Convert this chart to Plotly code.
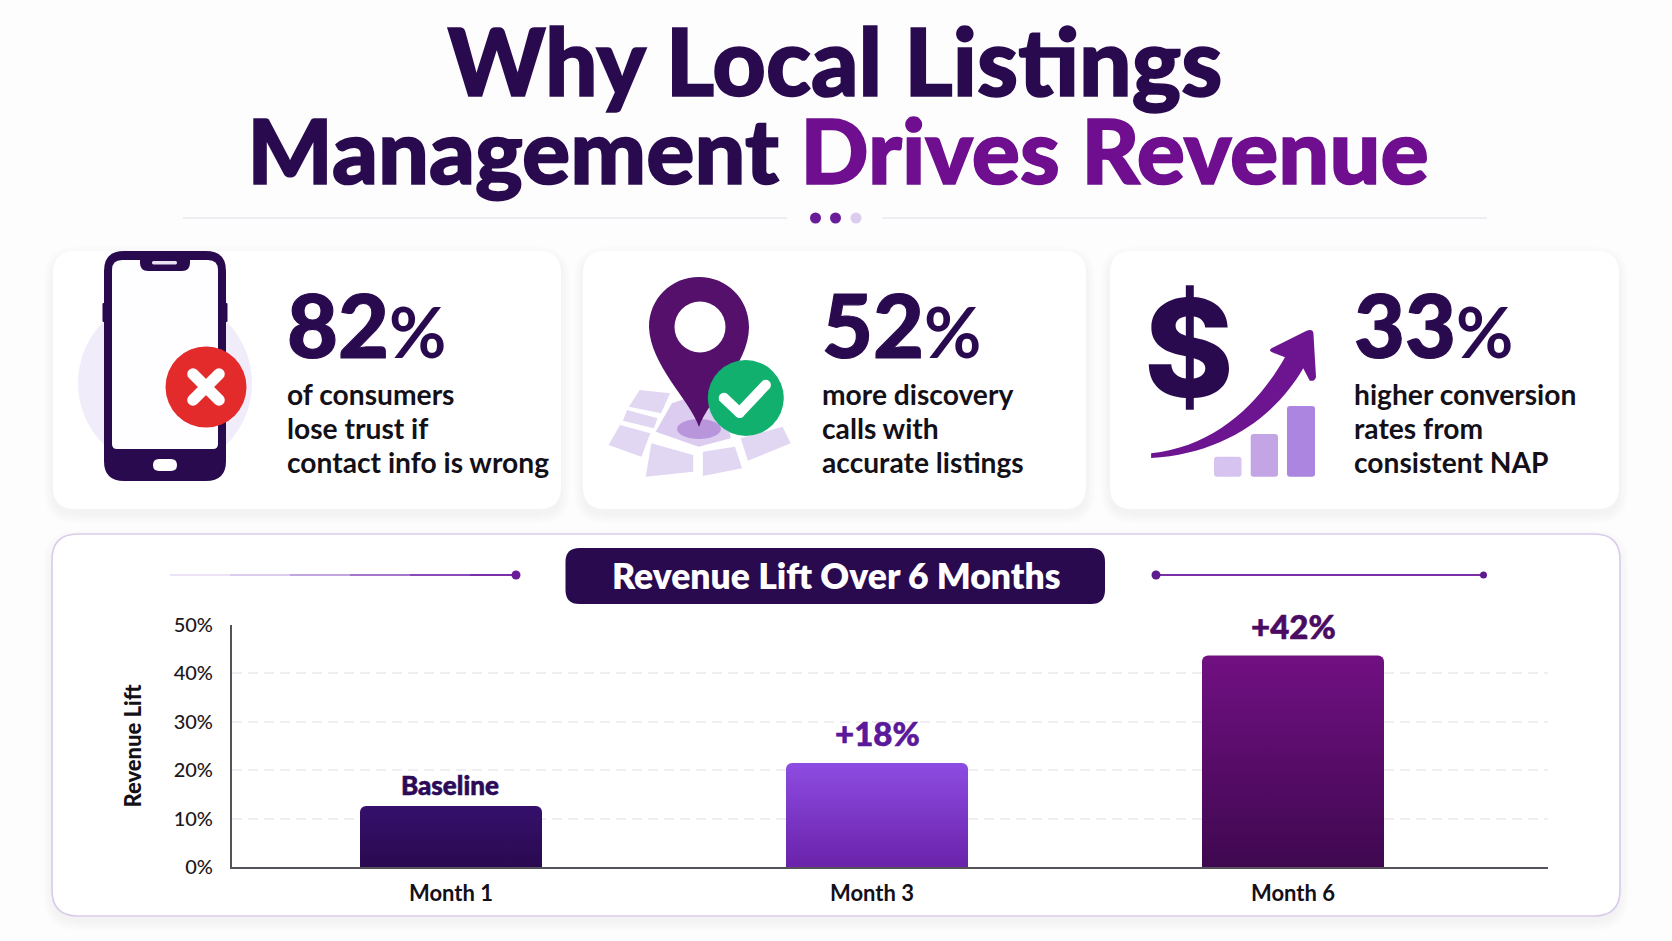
import math
import re
import plotly.graph_objects as go

W, H = 1672, 941

# ---- data ----
months = ["Month 1", "Month 3", "Month 6"]
lift_values = [12.6, 21.5, 43.7]
bar_labels = ["Baseline", "+18%", "+42%"]
stat_numbers = ["82", "52", "33"]
stat_captions = [
    ["of consumers", "lose trust if", "contact info is wrong"],
    ["more discovery", "calls with", "accurate listings"],
    ["higher conversion", "rates from", "consistent NAP"],
]
y_ticks = [0, 10, 20, 30, 40, 50]
y_tick_text = ["0%", "10%", "20%", "30%", "40%", "50%"]

# ---- style ----
FONT = "Lato"
DARK = "#2a0a4f"
PURPLE = "#6f0f8f"
bar_fills = ["#2f0d5f", "#7a35c8", "#5c0d70"]
bar_gradients = [("#35106c", "#2a0a50"), ("#8d4ce2", "#6a22aa"), ("#711082", "#3f0850")]
label_colors = ["#2d0a57", "#5a189a", "#4a0b63"]
label_sizes = [26, 33, 33]
label_shift = [11, 16, 15]
label_xshift = [-1, 5, 0]


def conv(s):
    out, isx = [], True
    for tok in re.findall(r"[A-Za-z]|-?[\d.]+", s):
        if tok.isalpha():
            out.append(tok)
            isx = True
        else:
            v = float(tok)
            out.append(f"{v / W:.5f}" if isx else f"{1 - v / H:.5f}")
            isx = not isx
    return " ".join(out)


shapes = []
annos = []


def path(s, fill, line=None, lw=0, layer="above", opacity=1):
    shapes.append(dict(type="path", xref="paper", yref="paper", path=conv(s), fillcolor=fill,
                       line=dict(color=line or "rgba(0,0,0,0)", width=lw), layer=layer, opacity=opacity))


def rr(x0, y0, x1, y1, r, rb=None):
    rb = r if rb is None else rb
    return (f"M {x0+r} {y0} L {x1-r} {y0} Q {x1} {y0} {x1} {y0+r} L {x1} {y1-rb} Q {x1} {y1} {x1-rb} {y1} "
            f"L {x0+rb} {y1} Q {x0} {y1} {x0} {y1-rb} L {x0} {y0+r} Q {x0} {y0} {x0+r} {y0} Z")


def circle(cx, cy, rx, fill, ry=None, layer="above"):
    ry = rx if ry is None else ry
    shapes.append(dict(type="circle", xref="paper", yref="paper", x0=(cx-rx)/W, x1=(cx+rx)/W,
                       y0=1-(cy+ry)/H, y1=1-(cy-ry)/H, fillcolor=fill, line=dict(width=0), layer=layer))


def seg(x0, x1, y, color, width, layer="above"):
    shapes.append(dict(type="line", xref="paper", yref="paper", x0=x0/W, x1=x1/W, y0=1-y/H, y1=1-y/H,
                       line=dict(color=color, width=width), layer=layer))


def capsule(x0, y0, x1, y1, w, fill):
    a = math.atan2(y1-y0, x1-x0)
    pts = []
    for i in range(9):
        t = a + math.pi/2 + math.pi*i/8
        pts.append((x0 + w/2*math.cos(t), y0 + w/2*math.sin(t)))
    for i in range(9):
        t = a - math.pi/2 + math.pi*i/8
        pts.append((x1 + w/2*math.cos(t), y1 + w/2*math.sin(t)))
    path("M " + " L ".join(f"{x:.1f} {y:.1f}" for x, y in pts) + " Z", fill)


def text(x, y, t, size, color, weight=400, xanchor="left", family=FONT):
    annos.append(dict(xref="paper", yref="paper", x=x/W, y=1-y/H, text=t, showarrow=False, xanchor=xanchor,
                      yanchor="middle", align="left" if xanchor == "left" else "center",
                      font=dict(family=family, size=size, color=color, weight=weight)))


def headline(x, bottom, box_h, t, size):
    annos.append(dict(xref="paper", yref="paper", x=x/W, y=1-bottom/H, text=t, showarrow=False, xanchor="center",
                      yanchor="bottom", height=box_h, valign="bottom", borderpad=0, width=1400,
                      font=dict(family=FONT, size=size, color=DARK, weight=900)))


def panel(x0, y0, x1, y1, r, stroke=None):
    for i in range(10, 0, -1):
        path(rr(x0-i, y0-i+5, x1+i, y1+i+5, r+i), "rgba(70,40,120,0.004)", layer="below")
    path(rr(x0, y0, x1, y1, r), "#ffffff", line=stroke, lw=1.6 if stroke else 0, layer="below")


def heavy(color, w=1.6):
    return f"stroke:{color};stroke-width:{w}px"


# ---- header ----
headline(834.5, 117, 92, f'<span style="{heavy(DARK)}">Why Local Listings</span>', 93)
headline(838, 204, 87, f'<span style="{heavy(DARK)}">Management </span>'
                       f'<span style="fill:{PURPLE};{heavy(PURPLE)}">Drives Revenue</span>', 90)
seg(183, 787, 218, "#e9e7ec", 1.6)
seg(882, 1487, 218, "#e9e7ec", 1.6)
circle(815.5, 218, 5.5, "#6a1b9a")
circle(835.5, 218, 5.5, "#6a1b9a")
circle(856, 218, 5.5, "#dccdf0")

# ---- cards ----
panel(53, 251, 561, 509, 22)
panel(583, 251, 1086, 509, 22)
panel(1110, 251, 1619, 509, 22)
panel(52, 534, 1620, 916, 26, "#d9cbea")

for x, num, cap in zip([285, 820, 1351.5], stat_numbers, stat_captions):
    text(x, 324, f'<span style="{heavy(DARK, 1.2)}">{num}</span>'
                 f'<span style="font-size:70px;font-weight:700">%</span>', 88, DARK, 900)
    for line_no, line in enumerate(cap):
        text(x, 394 + 34 * line_no, line, 28.2, "#141018", 700)

# phone icon
circle(165, 383, 87, "#f1ecfa")
path(rr(102.5, 303, 108, 322, 1), DARK)
path(rr(222, 303, 227.5, 322, 1), DARK)
path(rr(104, 251, 226, 481, 20), DARK)
path(rr(112, 260, 218, 449, 10, 5), "#fefdff")
path("M 140 259 L 190 259 L 190 263 Q 190 271 182 271 L 148 271 Q 140 271 140 263 Z", DARK)
path(rr(152, 261, 177, 264.5, 1.5), "#e9e2f3")
path(rr(153, 459, 177, 471, 6), "#ffffff")
circle(206, 387, 40.5, "#e32b2b")
capsule(193, 374, 219, 400, 11.5, "#ffffff")
capsule(219, 374, 193, 400, 11.5, "#ffffff")


# map + pin icon
def z2(*pts):
    return "M " + " L ".join(f"{570 + x / 2.8:.1f} {230 + y / 3:.1f}" for x, y in pts) + " Z"


for tile in [
    [(195, 480), (280, 490), (255, 550), (165, 530)],
    [(160, 540), (245, 565), (235, 595), (148, 572)],
    [(140, 585), (225, 610), (200, 680), (108, 645)],
    [(228, 640), (345, 675), (345, 725), (212, 740)],
    [(372, 665), (462, 650), (482, 715), (372, 738)],
    [(478, 625), (595, 590), (618, 640), (498, 692)],
]:
    path(z2(*tile), "#e2d7f2")
path(z2((285, 520), (340, 500), (440, 560), (450, 625), (360, 650), (240, 605)), "#dccdf0")
circle(699, 429, 22, "#b995dc", 10)
path("M 699 427 C 690 400 650 365 649 327 C 649 299 671 277 699 277 C 727 277 749 299 749 327 "
     "C 749 365 708 400 699 427 Z", "#54106b")
circle(700, 327, 25.5, "#ffffff")
circle(745.8, 398, 38, "#12b06e")
capsule(724, 398, 739.6, 412.7, 10.5, "#ffffff")
capsule(739.6, 412.7, 765.7, 385, 10.5, "#ffffff")

# dollar + arrow icon
text(1189, 347, "$", 136, DARK, 800, "center", family="Inter")


def z3(x, y):
    return f"{1100 + x / 2.741:.1f} {230 + y / 3:.1f}"


path(f"M {z3(140, 684)} C {z3(340, 670)} {z3(480, 560)} {z3(557, 415)} L {z3(575, 452)} "
     f"Q {z3(590, 455)} {z3(592, 440)} L {z3(585, 310)} Q {z3(583, 295)} {z3(565, 303)} "
     f"L {z3(470, 355)} Q {z3(460, 362)} {z3(475, 368)} L {z3(507, 382)} "
     f"C {z3(430, 530)} {z3(310, 650)} {z3(140, 670)} Z", "#6d1491")
path(rr(1214, 456.7, 1241.5, 476.7, 3), "#d6c3ef")
path(rr(1250.7, 434, 1278, 476.7, 3), "#c3a5e6")
path(rr(1287, 406, 1315, 476.7, 3), "#ac85e0")

# ---- chart header ----
path(rr(565.5, 548, 1105, 604, 14), "#2a0a4f")
text(836, 575, "Revenue Lift Over 6 Months", 35.5, "#ffffff", 800, "center")
rule_steps = [(170, 230, "#ece4f6"), (230, 290, "#dccdee"), (290, 350, "#c2a6e0"),
              (350, 410, "#a476cc"), (410, 470, "#8a4bb8"), (470, 515, "#7b2fa8")]
for a, b, c in rule_steps:
    seg(a, b, 575, c, 2)
circle(516, 575, 4.5, "#6a1b9a")
seg(1156, 1483, 575, "#7b2fa8", 2)
circle(1156, 575, 4.5, "#5e1a8f")
circle(1483.5, 575, 3.5, "#5e1a8f")

# ---- bar chart ----
unit = 421.0
bar_w = 182.0 / unit
fig = go.Figure(go.Bar(
    x=months, y=lift_values, width=bar_w,
    offset=[-bar_w/2 + s/unit for s in [0, 5, 0]],
    marker=dict(color=bar_fills, line=dict(width=0), cornerradius=6),
    hoverinfo="skip",
))
for m, v, lab, col, sz, sh, xs in zip(months, lift_values, bar_labels, label_colors, label_sizes, label_shift,
                                       label_xshift):
    annos.append(dict(xref="x", yref="y", x=m, y=v,
                      text=f'<span style="stroke:{col};stroke-width:0.6px">{lab}</span>',
                      showarrow=False, yanchor="bottom", yshift=sh - 8, xshift=xs,
                      font=dict(family=FONT, size=sz, color=col, weight=900)))

fig.update_layout(
    width=W, height=H, autosize=False,
    margin=dict(l=0, r=0, t=0, b=0, autoexpand=False),
    paper_bgcolor="#fdfdfe", plot_bgcolor="rgba(0,0,0,0)",
    showlegend=False, shapes=shapes, annotations=annos,
    font=dict(family=FONT),
    xaxis=dict(domain=[232/W, 1548/W], range=[-219/unit, 1097/unit], type="category",
               categoryorder="array", categoryarray=months,
               showline=True, linecolor="#55525a", linewidth=2, showgrid=False, zeroline=False,
               ticks="", ticklabelstandoff=6,
               tickfont=dict(family=FONT, size=22, color="#141018", weight=700)),
    yaxis=dict(domain=[(H-867)/H, (H-625)/H], range=[0, 50], tickmode="array",
               tickvals=y_ticks, ticktext=y_tick_text,
               showline=True, linecolor="#55525a", linewidth=2, zeroline=False,
               showgrid=True, gridcolor="#f0eef3", gridwidth=1.5, griddash="10px,6px",
               ticks="", ticklabelstandoff=13,
               tickfont=dict(family=FONT, size=20, color="#1c1820", weight=500),
               title=dict(text="Revenue Lift", standoff=26,
                          font=dict(family=FONT, size=22, color="#141018", weight=900))),
)

stops = ",".join(f'["{a}","{b}"]' for a, b in bar_gradients)
post = """
document.body.style.margin='0';document.body.style.overflow='hidden';
var gd=document.querySelector('.plotly-graph-div');
var svg=gd.querySelector('svg.main-svg');
var NS='http://www.w3.org/2000/svg';
var defs=document.createElementNS(NS,'defs');svg.insertBefore(defs,svg.firstChild);
var stops=[%s];
gd.querySelectorAll('.barlayer .point path').forEach(function(p,i){
  var g=document.createElementNS(NS,'linearGradient');
  g.setAttribute('id','bg'+i);g.setAttribute('x1','0');g.setAttribute('y1','0');g.setAttribute('x2','0');g.setAttribute('y2','1');
  [0,1].forEach(function(k){var s=document.createElementNS(NS,'stop');s.setAttribute('offset',k);s.setAttribute('stop-color',stops[i][k]);g.appendChild(s);});
  defs.appendChild(g);p.style.fill='url(#bg'+i+')';
});
""" % stops

fig.write_html("out.html", post_script=post, config={"displayModeBar": False})
